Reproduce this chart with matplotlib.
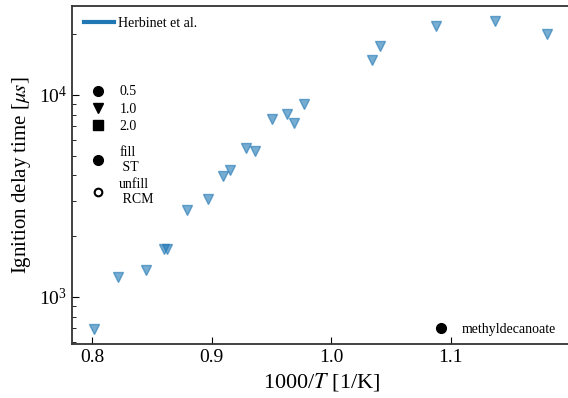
import matplotlib
matplotlib.use('Agg')
import matplotlib.pyplot as plt
from matplotlib.lines import Line2D

plt.rcParams['font.family'] = ['Liberation Serif', 'DejaVu Serif']
plt.rcParams['mathtext.fontset'] = 'stix'

# Herbinet et al. shock tube data, phi = 1.0
inv_T = [0.8017, 0.8212, 0.8446, 0.8600, 0.8625, 0.8793, 0.8965, 0.9091, 0.9155,
         0.9283, 0.9362, 0.9506, 0.9632, 0.9690, 0.9774, 1.0341, 1.0404, 1.0881,
         1.1375, 1.1805]
tau = [692, 1261, 1361, 1729, 1729, 2697, 3056, 3986, 4239,
       5446, 5300, 7607, 8054, 7268, 9024, 14905, 17480, 21880,
       23330, 20120]

fig = plt.figure(figsize=(5.68, 3.98), dpi=100)
ax = fig.add_axes([0.1268, 0.1357, 0.877, 0.849])

ax.semilogy(inv_T, tau, 'v', color='C0', alpha=0.6, ms=7, mew=1.0)

ax.set_xlim(0.783, 1.2)
ax.set_ylim(585, 27540)
ax.set_xticks([0.8, 0.9, 1.0, 1.1])
ax.set_xlabel('1000/$T$ [1/K]', fontsize=16)
ax.set_ylabel(r'Ignition delay time [$\mu s$]', fontsize=15)
ax.tick_params(which='both', direction='in', labelsize=14)
ax.tick_params(which='major', length=5)
ax.tick_params(which='minor', length=3)
for s in ax.spines.values():
    s.set_linewidth(1.3)
    s.set_color('#333333')

# source legend
h_src = [Line2D([], [], color='C0', lw=3)]
leg1 = ax.legend(h_src, ['Herbinet et al.'], loc='upper left', frameon=False,
                 fontsize=10, handlelength=2.2, handletextpad=0.3,
                 bbox_to_anchor=(-0.002, 1.004))
ax.add_artist(leg1)

# equivalence ratio legend
h_phi = [Line2D([], [], ls='', marker='o', color='k', ms=7),
         Line2D([], [], ls='', marker='v', color='k', ms=7),
         Line2D([], [], ls='', marker='s', color='k', ms=7)]
leg2 = ax.legend(h_phi, ['0.5', '1.0', '2.0'],
                 loc='upper left', frameon=False, fontsize=10,
                 handletextpad=0.5, labelspacing=0.3,
                 bbox_to_anchor=(0.0, 0.802))
ax.add_artist(leg2)

# facility legend
h_fac = [Line2D([], [], ls='', marker='o', color='k', ms=7),
         Line2D([], [], ls='', marker='o', mfc='none', mec='k', mew=1.5, ms=5.5)]
leg3 = ax.legend(h_fac, ['fill\n ST', 'unfill\n RCM'],
                 loc='upper left', frameon=False, fontsize=10,
                 handletextpad=0.5, labelspacing=0.3,
                 bbox_to_anchor=(0.0, 0.624))
ax.add_artist(leg3)

# fuel legend
h_fuel = [Line2D([], [], ls='', marker='o', color='k', ms=7)]
ax.legend(h_fuel, ['methyldecanoate'], loc='lower right', frameon=False,
          fontsize=10, handletextpad=0.5, bbox_to_anchor=(0.997, -0.012))

fig.savefig('out.png', dpi=100)
